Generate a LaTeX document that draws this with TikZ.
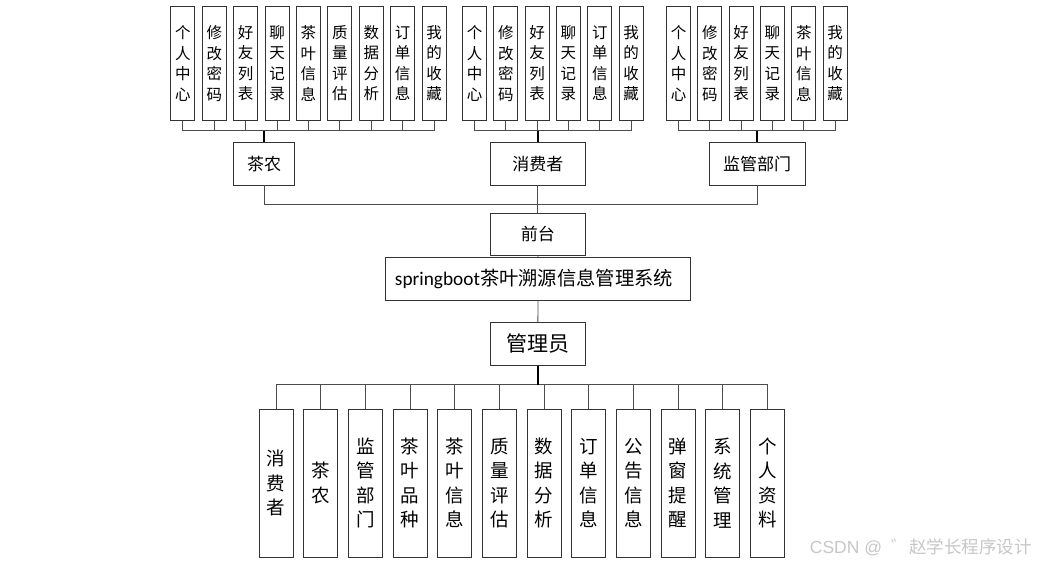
\documentclass[tikz,border=0pt]{standalone}
\usepackage{fontspec}
\setmainfont{Carlito}
\newfontfamily\cjk{Noto Sans CJK SC}
\newfontfamily\wmsans{Liberation Sans}
\begin{document}
\begin{tikzpicture}[x=1pt,y=-1pt,
  box/.style={draw=black!80,line width=0.8pt,inner sep=0pt,fill=white},
  topbox/.style={box,minimum width=24pt,minimum height=114.7pt,align=center,
    font=\cjk\fontsize{15.5}{20.5}\selectfont},
  grpbox/.style={box,minimum width=95.7pt,minimum height=42.3pt,font=\cjk\fontsize{17}{20}\selectfont},
  botbox/.style={box,minimum width=34pt,minimum height=148pt,align=center,
    font=\cjk\fontsize{18.5}{24.5}\selectfont},
  link/.style={draw=black!70,line width=0.8pt},
  trunk/.style={draw=black,line width=1.6pt}]
\useasboundingbox (0,0) rectangle (1037,565);
% farmer sub-boxes
\foreach \t [count=\i] in {个\\人\\中\\心,修\\改\\密\\码,好\\友\\列\\表,聊\\天\\记\\录,茶\\叶\\信\\息,质\\量\\评\\估,数\\据\\分\\析,订\\单\\信\\息,我\\的\\收\\藏}
  \node[topbox] (f\i) at ({182.85+31.4*(\i-1)},63.35) {\t};
% consumer sub-boxes
\foreach \t [count=\i] in {个\\人\\中\\心,修\\改\\密\\码,好\\友\\列\\表,聊\\天\\记\\录,订\\单\\信\\息,我\\的\\收\\藏}
  \node[topbox] (c\i) at ({474.5+31.33*(\i-1)},63.35) {\t};
% supervisor sub-boxes
\foreach \t [count=\i] in {个\\人\\中\\心,修\\改\\密\\码,好\\友\\列\\表,聊\\天\\记\\录,茶\\叶\\信\\息,我\\的\\收\\藏}
  \node[topbox] (s\i) at ({678.5+31.33*(\i-1)},63.35) {\t};
% group boxes
\node[grpbox,minimum width=60.6pt] (farmer) at (264,163.85) {茶农};
\node[grpbox] (consumer) at (537.85,163.85) {消费者};
\node[grpbox] (super) at (757.15,163.85) {监管部门};
\node[grpbox,minimum height=41.7pt] (qt) at (537.85,234.15) {前台};
\node[box,minimum width=305.4pt,minimum height=42.7pt,font=\fontsize{19.3}{24}\selectfont] (sys) at (538,278.85) {springboot{\cjk 茶叶溯源信息管理系统}\hspace*{8pt}};
\node[grpbox,minimum height=42.6pt,font=\cjk\fontsize{21}{24}\selectfont] (admin) at (537.85,344) {管理员};
% bottom boxes
\foreach \t [count=\i] in {消\\费\\者,茶\\农,监\\管\\部\\门,茶\\叶\\品\\种,茶\\叶\\信\\息,质\\量\\评\\估,数\\据\\分\\析,订\\单\\信\\息,公\\告\\信\\息,弹\\窗\\提\\醒,系\\统\\管\\理,个\\人\\资\\料}
  \node[botbox] (b\i) at ({276+44.66*(\i-1)},483) {\t};
% junction points
\coordinate (fj) at (264,130.7);
\coordinate (cj) at (537.85,130.7);
\coordinate (sj) at (757.15,130.7);
\coordinate (tj) at (537.85,204.3);
\coordinate (mj) at (537.85,384.7);
% connectors
\foreach \i in {1,...,9} \draw[link] (f\i.south) |- (fj);
\foreach \i in {1,...,6} \draw[link] (c\i.south) |- (cj);
\foreach \i in {1,...,6} \draw[link] (s\i.south) |- (sj);
\draw[trunk] (fj) -- (farmer.north);
\draw[trunk] (cj) -- (consumer.north);
\draw[trunk] (sj) -- (super.north);
\draw[link] (farmer.south) |- (tj);
\draw[link] (super.south) |- (tj);
\draw[link] (consumer.south) -- (qt.north);
\draw[link] (qt.south) -- (sys.north);
\draw[link] (sys.south) -- (admin.north);
\foreach \i in {1,...,12} \draw[link] (b\i.north) |- (mj);
\draw[trunk] (admin.south) -- (mj);
% watermark
\node[anchor=east,inner sep=0pt,text=black!22,font=\fontsize{17.5}{20}\selectfont] (wm) at (1032,547) {{\wmsans CSDN @\ \ }{\cjk ゛赵学长程序设计}};
\end{tikzpicture}
\end{document}
